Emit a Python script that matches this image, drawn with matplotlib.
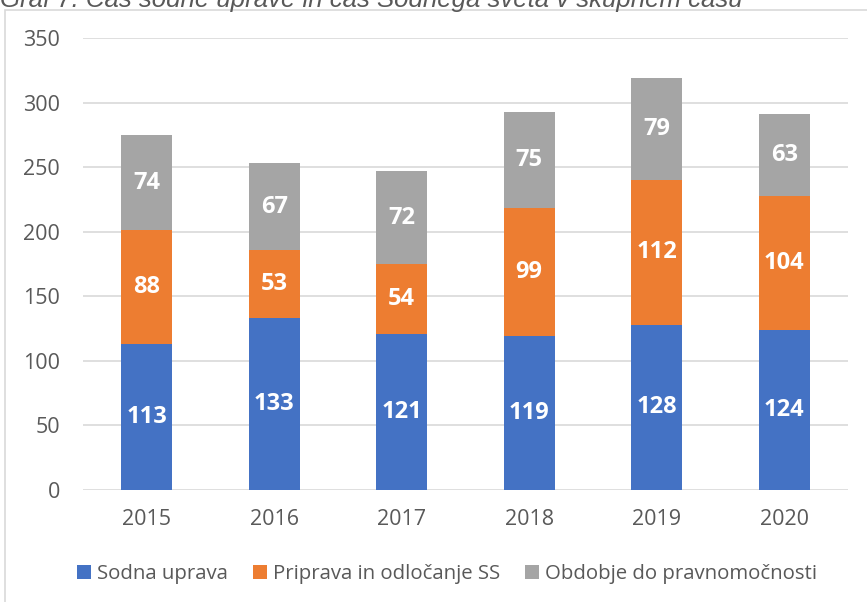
"""Graf 7: stacked bars of court administration time vs. judicial council time."""

import matplotlib

matplotlib.use("Agg")
import matplotlib.pyplot as plt
import numpy as np
from matplotlib.patches import Patch, Rectangle

years = ["2015", "2016", "2017", "2018", "2019", "2020"]
sodna_uprava = [113, 133, 121, 119, 128, 124]
priprava_ss = [88, 53, 54, 99, 112, 104]
obdobje_pravnomocnost = [74, 67, 72, 75, 79, 63]

series_names = ["Sodna uprava", "Priprava in odločanje SS", "Obdobje do pravnomočnosti"]
colors = ["#4472C4", "#ED7D31", "#A5A5A5"]
title = "Graf 7: Čas sodne uprave in čas Sodnega sveta v skupnem času"

plt.rcParams["font.family"] = ["Open Sans", "DejaVu Sans"]

fig = plt.figure(figsize=(8.67, 6.02), dpi=100)
ax = fig.add_axes([83 / 867, 1 - 490 / 602, 765 / 867, 452 / 602])

# outer chart frame (only top and left edges visible in the crop)
fig.patches.append(Rectangle((4.5 / 867, -0.1), 1.2, 1 - 10 / 602 + 0.1, transform=fig.transFigure,
                             fill=False, edgecolor="#d9d9d9", linewidth=1.2))
# title is cut off by the top edge in the source image
fig.text(0.0, 1 - 7 / 602, title, ha="left", va="baseline", style="italic", fontsize=18.5,
         color="#595959", family=["Liberation Sans", "DejaVu Sans"])

x = np.arange(len(years))
bottom = np.zeros(len(years))
for values, name, color in zip([sodna_uprava, priprava_ss, obdobje_pravnomocnost], series_names, colors):
    vals = np.array(values)
    ax.bar(x, vals, width=0.4, bottom=bottom, color=color, label=name, zorder=2)
    for xi, b, v in zip(x, bottom, vals):
        ax.text(xi, b + v / 2, str(v), ha="center", va="center", color="white",
                fontsize=17, fontweight="bold", zorder=3)
    bottom += vals

ax.set_xlim(-0.5, len(years) - 0.5)
ax.set_ylim(0, 350)
ax.set_yticks(range(0, 351, 50))
ax.set_xticks(x)
ax.set_xticklabels(years)
ax.yaxis.grid(True, color="#d9d9d9", linewidth=1.2, zorder=0)
ax.set_axisbelow(True)
for side in ["top", "right", "left", "bottom"]:
    ax.spines[side].set_visible(False)
ax.tick_params(axis="both", length=0, labelsize=15.5, colors="#595959")
ax.tick_params(axis="y", pad=16.5)
ax.tick_params(axis="x", pad=14)

handles = [Patch(facecolor=c, label=n) for c, n in zip(colors, series_names)]
fig.legend(handles=handles, loc="center", bbox_to_anchor=(447 / 867, 1 - 574 / 602), ncol=3,
           frameon=False, fontsize=14.7, handlelength=0.7, handleheight=0.7, handletextpad=0.3,
           columnspacing=1.2, labelcolor="#595959")

fig.savefig("out.png", dpi=100)
